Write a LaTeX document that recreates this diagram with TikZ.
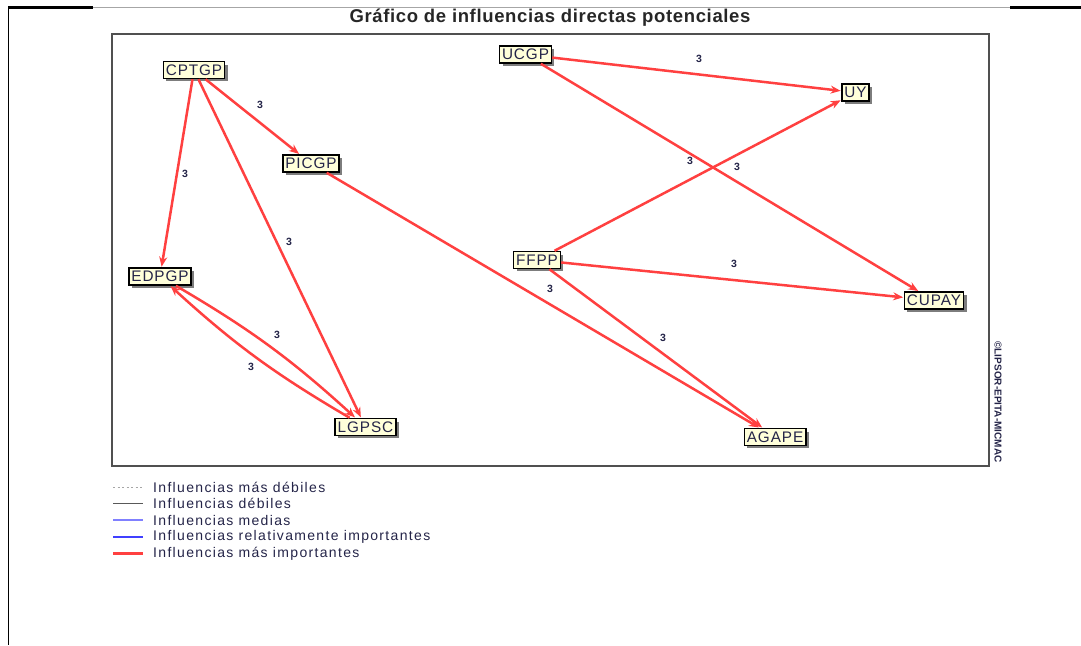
\documentclass[tikz,border=0pt]{standalone}
\usepackage{fontspec}
\setmainfont{Liberation Sans}
\newfontfamily\nodefont[LetterSpace=6]{Liberation Sans}
\newfontfamily\legfont[LetterSpace=9.5]{Liberation Sans}
\newfontfamily\titlefont[LetterSpace=3.5]{Liberation Sans}
\usetikzlibrary{arrows.meta,shadows}
\definecolor{edgered}{RGB}{255,64,64}
\definecolor{nodefill}{RGB}{255,255,218}
\definecolor{txtnavy}{RGB}{36,36,72}
\definecolor{framegray}{RGB}{80,80,80}
\definecolor{medblue}{RGB}{128,128,255}
\definecolor{strongblue}{RGB}{64,64,255}
\tikzset{
  var/.style={draw=black, line width=1.6pt, fill=nodefill, text=txtnavy,
    font=\nodefont\fontsize{15.3}{15.3}\selectfont, inner xsep=2.5pt, inner ysep=3pt,
    text height=10.9pt, text depth=0pt,
    drop shadow={shadow xshift=3pt, shadow yshift=-3pt, fill=black!60, opacity=0.85}},
  edge/.style={draw=edgered, line width=2.5pt, -{Stealth[length=10pt,width=8pt]}, shorten >=0.5pt},
  lbl/.style={font=\bfseries\fontsize{10.5}{10.5}\selectfont, text=txtnavy, inner sep=0pt},
  legtxt/.style={font=\legfont\fontsize{14}{14}\selectfont, text=txtnavy, anchor=west, inner sep=0pt},
}
\begin{document}
\begin{tikzpicture}[x=1pt,y=-1pt]
\useasboundingbox (0,0) rectangle (1081,645);
% outer frame
\draw[line width=0.6pt, black!35] (93,7.5) -- (1010,7.5);
\draw[line width=2.4pt, black] (8,7.5) -- (93,7.5);
\draw[line width=2.4pt, black] (1010,7.5) -- (1081,7.5);
\draw[line width=0.8pt, black] (8,6.5) -- (8,645);
% title
\node[font=\titlefont\bfseries\fontsize{18.5}{18.5}\selectfont, text=black!85] (title) at (550,18) {Gráfico de influencias directas potenciales};
% plot box
\draw[line width=1.8pt, framegray] (112,34) rectangle (989,466);
\node[font=\bfseries\fontsize{10}{10}\selectfont, rotate=-90, text=txtnavy, inner sep=0pt] (copy) at (998,402) {©LIPSOR-EPITA-MICMAC};
% nodes
\node[var] (CPTGP) at (194,70) {CPTGP};
\node[var] (PICGP) at (311,163.5) {PICGP};
\node[var] (EDPGP) at (160,276.5) {EDPGP};
\node[var] (LGPSC) at (365.5,427) {LGPSC};
\node[var] (UCGP) at (525.5,54.5) {UCGP};
\node[var] (UY) at (855.5,92.5) {UY};
\node[var] (FFPP) at (537,260) {FFPP};
\node[var] (CUPAY) at (934,300.5) {CUPAY};
\node[var] (AGAPE) at (775,437) {AGAPE};
% edges
\draw[edge] (CPTGP) -- (PICGP);
\draw[edge] (CPTGP) -- (EDPGP);
\draw[edge] (CPTGP) -- (LGPSC);
\draw[edge] (EDPGP) to[bend left=6] (LGPSC);
\draw[edge] (LGPSC) to[bend left=6] (EDPGP);
\draw[edge] (PICGP) -- (AGAPE);
\draw[edge] (UCGP) -- (UY);
\draw[edge] (UCGP) -- (CUPAY);
\draw[edge] (FFPP) -- (UY);
\draw[edge] (FFPP) -- (CUPAY);
\draw[edge] (FFPP) -- (AGAPE);
% labels
\node[lbl] (l1) at (260,105) {3};
\node[lbl] (l2) at (185,174) {3};
\node[lbl] (l3) at (289,242) {3};
\node[lbl] (l4) at (277,335) {3};
\node[lbl] (l5) at (251,367) {3};
\node[lbl] (l6) at (550,289) {3};
\node[lbl] (l7) at (699,59) {3};
\node[lbl] (l8) at (737,167) {3};
\node[lbl] (l9) at (690,161) {3};
\node[lbl] (l10) at (734,264) {3};
\node[lbl] (l11) at (663,338) {3};
% legend
\coordinate (la1) at (113,487); \coordinate (lb1) at (143,487);
\coordinate (la2) at (113,503.5); \coordinate (lb2) at (143,503.5);
\coordinate (la3) at (113,520); \coordinate (lb3) at (143,520);
\coordinate (la4) at (113,537); \coordinate (lb4) at (143,537);
\coordinate (la5) at (113,553.5); \coordinate (lb5) at (143,553.5);
\draw[black!35, line width=0.7pt, dash pattern=on 2pt off 2.5pt] (la1) -- (lb1);
\draw[black!65, line width=1pt] (la2) -- (lb2);
\draw[medblue, line width=1.2pt] (la3) -- (lb3);
\draw[strongblue, line width=2.2pt] (la4) -- (lb4);
\draw[edgered, line width=2.2pt] (la5) -- (lb5);
\node[legtxt] (t1) at (153,487) {Influencias más débiles};
\node[legtxt] (t2) at (153,503.5) {Influencias débiles};
\node[legtxt] (t3) at (153,520) {Influencias medias};
\node[legtxt] (t4) at (153,537) {Influencias relativamente importantes};
\node[legtxt] (t5) at (153,553.5) {Influencias más importantes};
\end{tikzpicture}
\end{document}
